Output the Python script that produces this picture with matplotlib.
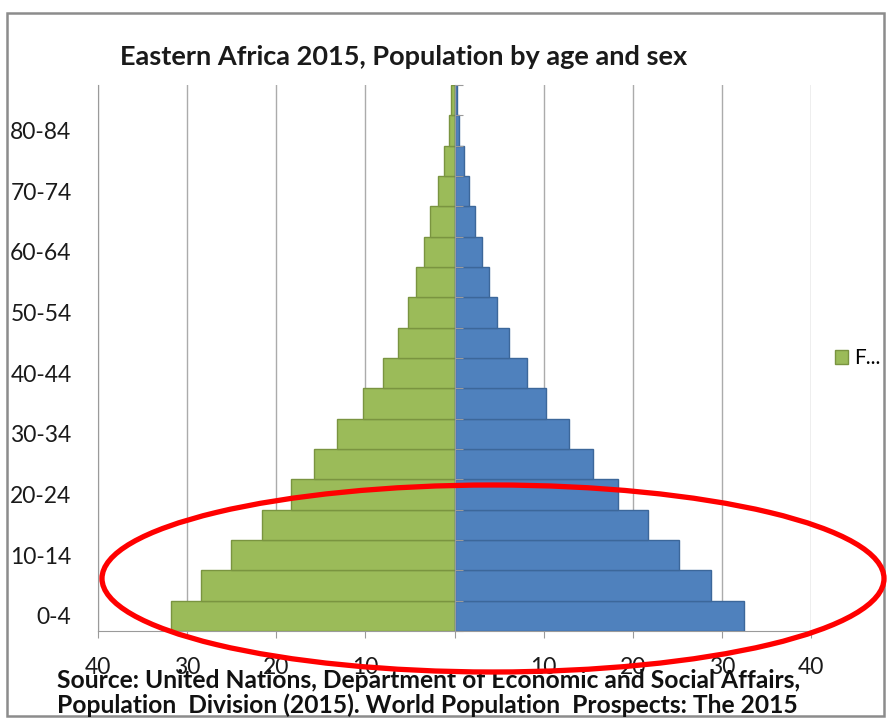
import numpy as np
import matplotlib
matplotlib.use("Agg")
import matplotlib.pyplot as plt
from matplotlib.patches import Ellipse, Rectangle, Patch

plt.rcParams['font.family'] = ['Lato', 'DejaVu Sans']

# 연령대별 인구 (Eastern Africa 2015)
ages = ['0-4', '5-9', '10-14', '15-19', '20-24', '25-29', '30-34', '35-39',
        '40-44', '45-49', '50-54', '55-59', '60-64', '65-69', '70-74',
        '75-79', '80-84', '85+']
female = [31.8, 28.4, 25.1, 21.6, 18.4, 15.8, 13.2, 10.3, 8.0, 6.3,
          5.2, 4.3, 3.4, 2.7, 1.8, 1.2, 0.65, 0.35]
male = [32.5, 28.8, 25.2, 21.7, 18.4, 15.5, 12.8, 10.3, 8.1, 6.1,
        4.8, 3.9, 3.1, 2.3, 1.6, 1.05, 0.56, 0.3]
xticks = [-40, -30, -20, -10, 0, 10, 20, 30, 40]
xlabels = ['40', '30', '20', '10', '', '10', '20', '30', '40']

W, H = 891, 725
fig = plt.figure(figsize=(W / 100, H / 100), dpi=100)
ax = fig.add_axes([98 / W, 1 - 631 / H, (811 - 98) / W, (631 - 85) / H])

y = np.arange(len(ages))
ax.barh(y, -np.array(female), height=1.0, color='#9BBB59',
        edgecolor='#7A9440', linewidth=1, zorder=3)
ax.barh(y, male, height=1.0, color='#4F81BD', edgecolor='#3C679A',
        linewidth=1, zorder=3)

ax.set_xlim(-40, 40)
ax.set_ylim(-0.5, len(ages) - 0.5)
ax.set_xticks(xticks)
ax.set_xticklabels(xlabels, fontsize=16.5, color='#1a1a1a')
ax.set_yticks(y[::2])
ax.set_yticklabels(ages[::2], fontsize=16.5, color='#1a1a1a')
ax.tick_params(axis='y', length=0, pad=19)
ax.tick_params(axis='x', length=5, color='#9a9a9a', pad=14)
ax.grid(axis='x', color='#ababab', linewidth=1, zorder=0)
for s in ['top', 'right']:
    ax.spines[s].set_visible(False)
for s in ['left', 'bottom']:
    ax.spines[s].set_color('#9a9a9a')

# 가운데 축 (눈금만)
sec = ax.secondary_yaxis(0.5)
sec.set_yticks(np.arange(-0.5, len(ages), 1))
sec.set_yticklabels([])
sec.tick_params(length=6, color='#9a9a9a', direction='out')
for sp in sec.spines.values():
    sp.set_color('#9a9a9a')
sec.set_zorder(4)

fig.text(120 / W, 1 - 57 / H, 'Eastern Africa 2015, Population by age and sex',
         fontsize=19.5, fontweight='bold', va='center', ha='left', color='#1a1a1a')
fig.text(57 / W, 1 - 681 / H,
         'Source: United Nations, Department of Economic and Social Affairs,',
         fontsize=17.7, fontweight='bold', va='center', ha='left', color='#111111')
fig.text(57 / W, 1 - 705 / H,
         'Population  Division (2015). World Population  Prospects: The 2015',
         fontsize=17.7, fontweight='bold', va='center', ha='left', color='#111111')

# 범례 (잘린 'F...')
fig.legend(handles=[Patch(facecolor='#9BBB59', edgecolor='#7A9440')], labels=['F...'],
           loc='center left', bbox_to_anchor=(822 / W, 1 - 358 / H), frameon=False,
           handlelength=0.65, handleheight=0.65, handletextpad=0.3, fontsize=15,
           borderaxespad=0.2)

fig.add_artist(Ellipse((493 / W, 1 - 578.5 / H), 782 / W, 187 / H,
                       transform=fig.transFigure, fill=False, edgecolor='#ff0000',
                       linewidth=3.8, zorder=10))
fig.add_artist(Rectangle((7 / W, 1 - 716 / H), (884 - 7) / W, (716 - 13) / H,
                         transform=fig.transFigure, fill=False, edgecolor='#8c8c8c',
                         linewidth=1.8))

fig.savefig('out.png', dpi=100)
